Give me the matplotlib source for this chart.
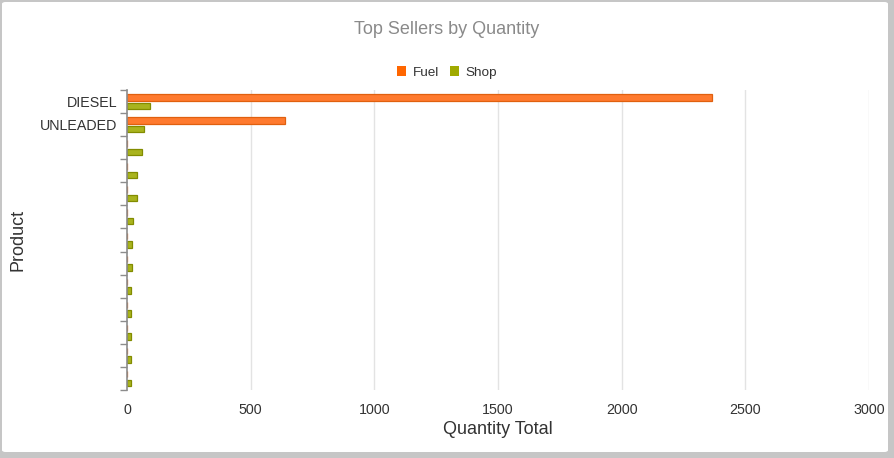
import matplotlib
matplotlib.use("Agg")
import matplotlib.pyplot as plt
from matplotlib.patches import FancyBboxPatch, Patch
import numpy as np

plt.rcParams['font.family'] = ['Liberation Sans', 'DejaVu Sans']

categories = ['DIESEL', 'UNLEADED', '', '', '', '', '', '', '', '', '', '', '']
fuel = [2365, 640, 0, 0, 0, 0, 0, 0, 0, 0, 0, 0, 0]
shop = [92, 69, 59, 42, 42, 23, 19, 19, 16, 16, 16, 16, 16]
series_names = ['Fuel', 'Shop']
x_ticks = [0, 500, 1000, 1500, 2000, 2500, 3000]

W, H = 894, 458
fig = plt.figure(figsize=(W / 100, H / 100), dpi=100, facecolor='#c6c6c6')

# white rounded panel
panel = FancyBboxPatch((2 / W, 6 / H), 886 / W, 450 / H,
                       boxstyle="round,pad=0,rounding_size=0.004",
                       transform=fig.transFigure, facecolor='white',
                       edgecolor='none', zorder=-10)
fig.patches.append(panel)

ax = fig.add_axes([127 / W, 1 - 390 / H, 742 / W, 300 / H])
ax.set_facecolor('none')
ax.set_zorder(5)

y = np.arange(len(categories))
h = 0.28
off = 0.185
ax.barh(y - off, fuel, height=h, color='#FF7A2E', edgecolor='#E0600F',
        linewidth=0.9, zorder=3)
ax.barh(y + off, shop, height=h, color='#A9B41E', edgecolor='#828C00',
        linewidth=0.9, zorder=3)

ax.set_xlim(0, 3000)
ax.set_ylim(len(categories) - 0.5, -0.5)

ax.set_xticks(x_ticks)
ax.set_xticklabels([str(t) for t in x_ticks], fontsize=10.3, color='#333333')
ax.tick_params(axis='x', length=0, pad=9)

ax.set_yticks(y)
ax.set_yticklabels(categories, fontsize=10.3, color='#333333')
ax.tick_params(axis='y', which='major', length=0, pad=7)
ax.set_yticks(np.arange(len(categories) + 1) - 0.5, minor=True)
ax.tick_params(axis='y', which='minor', length=5, width=1, color='#8c8c8c',
               direction='out')

for s in ['top', 'right', 'bottom']:
    ax.spines[s].set_visible(False)
ax.spines['left'].set_color('#8c8c8c')
ax.spines['left'].set_linewidth(1.2)
ax.spines['left'].set_zorder(4)

for t in x_ticks[1:]:
    ax.axvline(t, color='#e3e3e3', linewidth=1.0, zorder=1)

fig.text(447 / W, 1 - 30 / H, 'Top Sellers by Quantity', ha='center',
         va='center', fontsize=13, color='#8a8a8a')
fig.text(498 / W, 1 - 430 / H, 'Quantity Total', ha='center', va='center',
         fontsize=13, color='#333333')
fig.text(18 / W, 1 - 240 / H, 'Product', ha='center', va='center',
         fontsize=13, color='#333333', rotation=90)

handles = [Patch(facecolor='#FF6600', edgecolor='none'),
           Patch(facecolor='#A0AA00', edgecolor='none')]
fig.legend(handles, series_names, loc='center', bbox_to_anchor=(447 / W, 1 - 72.5 / H),
           ncol=2, frameon=False, fontsize=9.7, handlelength=0.7,
           handleheight=0.7, handletextpad=0.5, columnspacing=0.8,
           labelcolor='#333333')

fig.savefig('out.png', dpi=100, facecolor=fig.get_facecolor())
